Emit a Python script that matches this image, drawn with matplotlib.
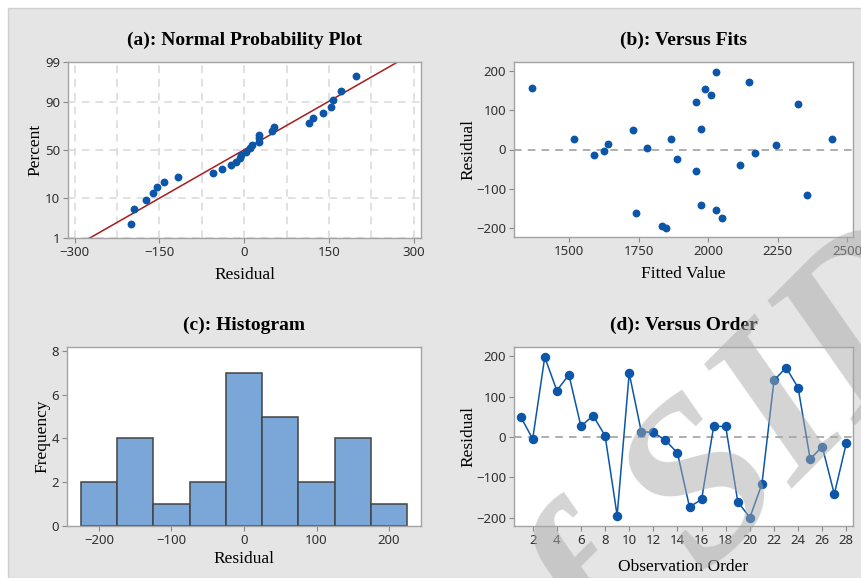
import numpy as np
import matplotlib
matplotlib.use("Agg")
import matplotlib.pyplot as plt
from matplotlib.patches import Rectangle
from statistics import NormalDist

# residuals in observation order, and the fitted value of each observation
residuals = [50, -5, 198, 115, 154, 26, 53, 3, -195, 158, 13, 11, -8, -40,
             -174, -155, 26, 26, -161, -200, -117, 140, 172, 122, -55, -24, -142, -15]
fitted = [1730, 1627, 2026, 2324, 1989, 2444, 1974, 1779, 1834, 1368, 1639, 2244, 2167, 2114,
          2049, 2026, 1519, 1865, 1742, 1849, 2353, 2011, 2146, 1957, 1957, 1886, 1974, 1589]
order = list(range(1, len(residuals) + 1))

hist_edges = [-225, -175, -125, -75, -25, 25, 75, 125, 175, 225]
pct_ticks = [1, 10, 50, 90, 99]

BLUE = '#0b56a8'
SPINE = '#a3a3a3'
BG = '#e5e5e5'
TITLE_FONT = dict(family='Liberation Serif', fontsize=14, fontweight='bold')
LABEL_FONT = dict(family='Liberation Serif', fontsize=12.5)

plt.rcParams['font.family'] = ['Noto Sans', 'DejaVu Sans']
plt.rcParams['font.size'] = 9.5

fig = plt.figure(figsize=(8.62, 5.78), dpi=100)
fig.patches.append(Rectangle((8 / 862, 0), 1, 1 - 8 / 578, transform=fig.transFigure,
                             facecolor=BG, edgecolor='#cfcfcf', lw=1, zorder=-10))

W, H = 862.0, 578.0


def make_axes(left, top, right, bottom):
    ax = fig.add_axes([left / W, 1 - bottom / H, (right - left) / W, (bottom - top) / H])
    for s in ax.spines.values():
        s.set_color(SPINE)
        s.set_linewidth(1.0)
    ax.tick_params(direction='out', length=3.5, width=0.8, color='#8a8a8a',
                   labelcolor='#303030', labelsize=9.5, pad=2)
    return ax


# (a) normal probability plot
nd = NormalDist()
ax = make_axes(68, 62, 421, 238)
res_sorted = np.sort(residuals)
n = len(res_sorted)
probs = (np.arange(1, n + 1) - 0.3) / (n + 0.4)
zs = np.array([nd.inv_cdf(p) for p in probs])
mu = np.mean(residuals)
sd = np.std(residuals, ddof=1)
zline = np.linspace(-3, 3, 50)
ax.set_xticks(np.arange(-300, 301, 150))
ax.set_xticks(np.arange(-300, 301, 75), minor=True)
ax.tick_params(axis='x', which='minor', length=0)
ax.set_yticks([nd.inv_cdf(p / 100) for p in pct_ticks])
ax.set_yticklabels([str(p) for p in pct_ticks])
ax.grid(True, which='both', color='#d9d9d9', lw=1.1, ls=(0, (5, 4)))
ax.set_axisbelow(True)
ax.plot(mu + sd * zline, zline, color='#a51c1c', lw=1.1, zorder=2)
ax.scatter(res_sorted, zs, s=32, color=BLUE, zorder=3, linewidths=0)
ax.set_xlim(-312, 313)
ax.set_ylim(nd.inv_cdf(0.01), nd.inv_cdf(0.99))
ax.set_title('(a): Normal Probability Plot', pad=12, **TITLE_FONT)
ax.set_xlabel('Residual', labelpad=6, **LABEL_FONT)
ax.set_ylabel('Percent', labelpad=1, **LABEL_FONT)

# (b) versus fits
ax = make_axes(514, 62, 853, 237)
ax.axhline(0, color='#999999', lw=1.1, ls=(0, (5, 4)), zorder=1)
ax.scatter(fitted, residuals, s=32, color=BLUE, zorder=3, linewidths=0)
ax.set_xticks(np.arange(1500, 2501, 250))
ax.set_yticks(np.arange(-200, 201, 100))
ax.set_xlim(1302, 2520)
ax.set_ylim(-223, 223)
ax.set_title('(b): Versus Fits', pad=12, **TITLE_FONT)
ax.set_xlabel('Fitted Value', labelpad=6, **LABEL_FONT)
ax.set_ylabel('Residual', labelpad=0, **LABEL_FONT)

# (c) histogram
ax = make_axes(67, 347, 421, 526)
ax.hist(residuals, bins=hist_edges, color='#7ba6d8', edgecolor='#444444', linewidth=1.1)
ax.set_xticks(np.arange(-200, 201, 100))
ax.set_yticks(np.arange(0, 9, 2))
ax.set_xlim(-244, 244)
ax.set_ylim(0, 8.18)
ax.set_title('(c): Histogram', pad=12, **TITLE_FONT)
ax.set_xlabel('Residual', labelpad=3, **LABEL_FONT)
ax.set_ylabel('Frequency', labelpad=1, **LABEL_FONT)

# (d) versus order
ax = make_axes(514, 347, 853, 526)
ax.axhline(0, color='#999999', lw=1.1, ls=(0, (5, 4)), zorder=1)
ax.plot(order, residuals, color=BLUE, lw=1.1, marker='o', ms=5.8, mec=BLUE, zorder=3)
ax.set_xticks(np.arange(2, 29, 2))
ax.set_yticks(np.arange(-200, 201, 100))
ax.set_xlim(0.45, 28.55)
ax.set_ylim(-221, 223)
ax.set_title('(d): Versus Order', pad=12, **TITLE_FONT)
ax.set_xlabel('Observation Order', labelpad=9, **LABEL_FONT)
ax.set_ylabel('Residual', labelpad=0, **LABEL_FONT)

# watermark running diagonally over the lower right
fig.text(712 / W, 1 - 490 / H, 'of SID', fontsize=165, family='Liberation Serif',
         style='italic', fontweight='bold', color='#a9a9a9', alpha=0.5,
         rotation=45, rotation_mode='anchor', ha='center', va='center', zorder=20)

fig.savefig('out.png', dpi=100)
